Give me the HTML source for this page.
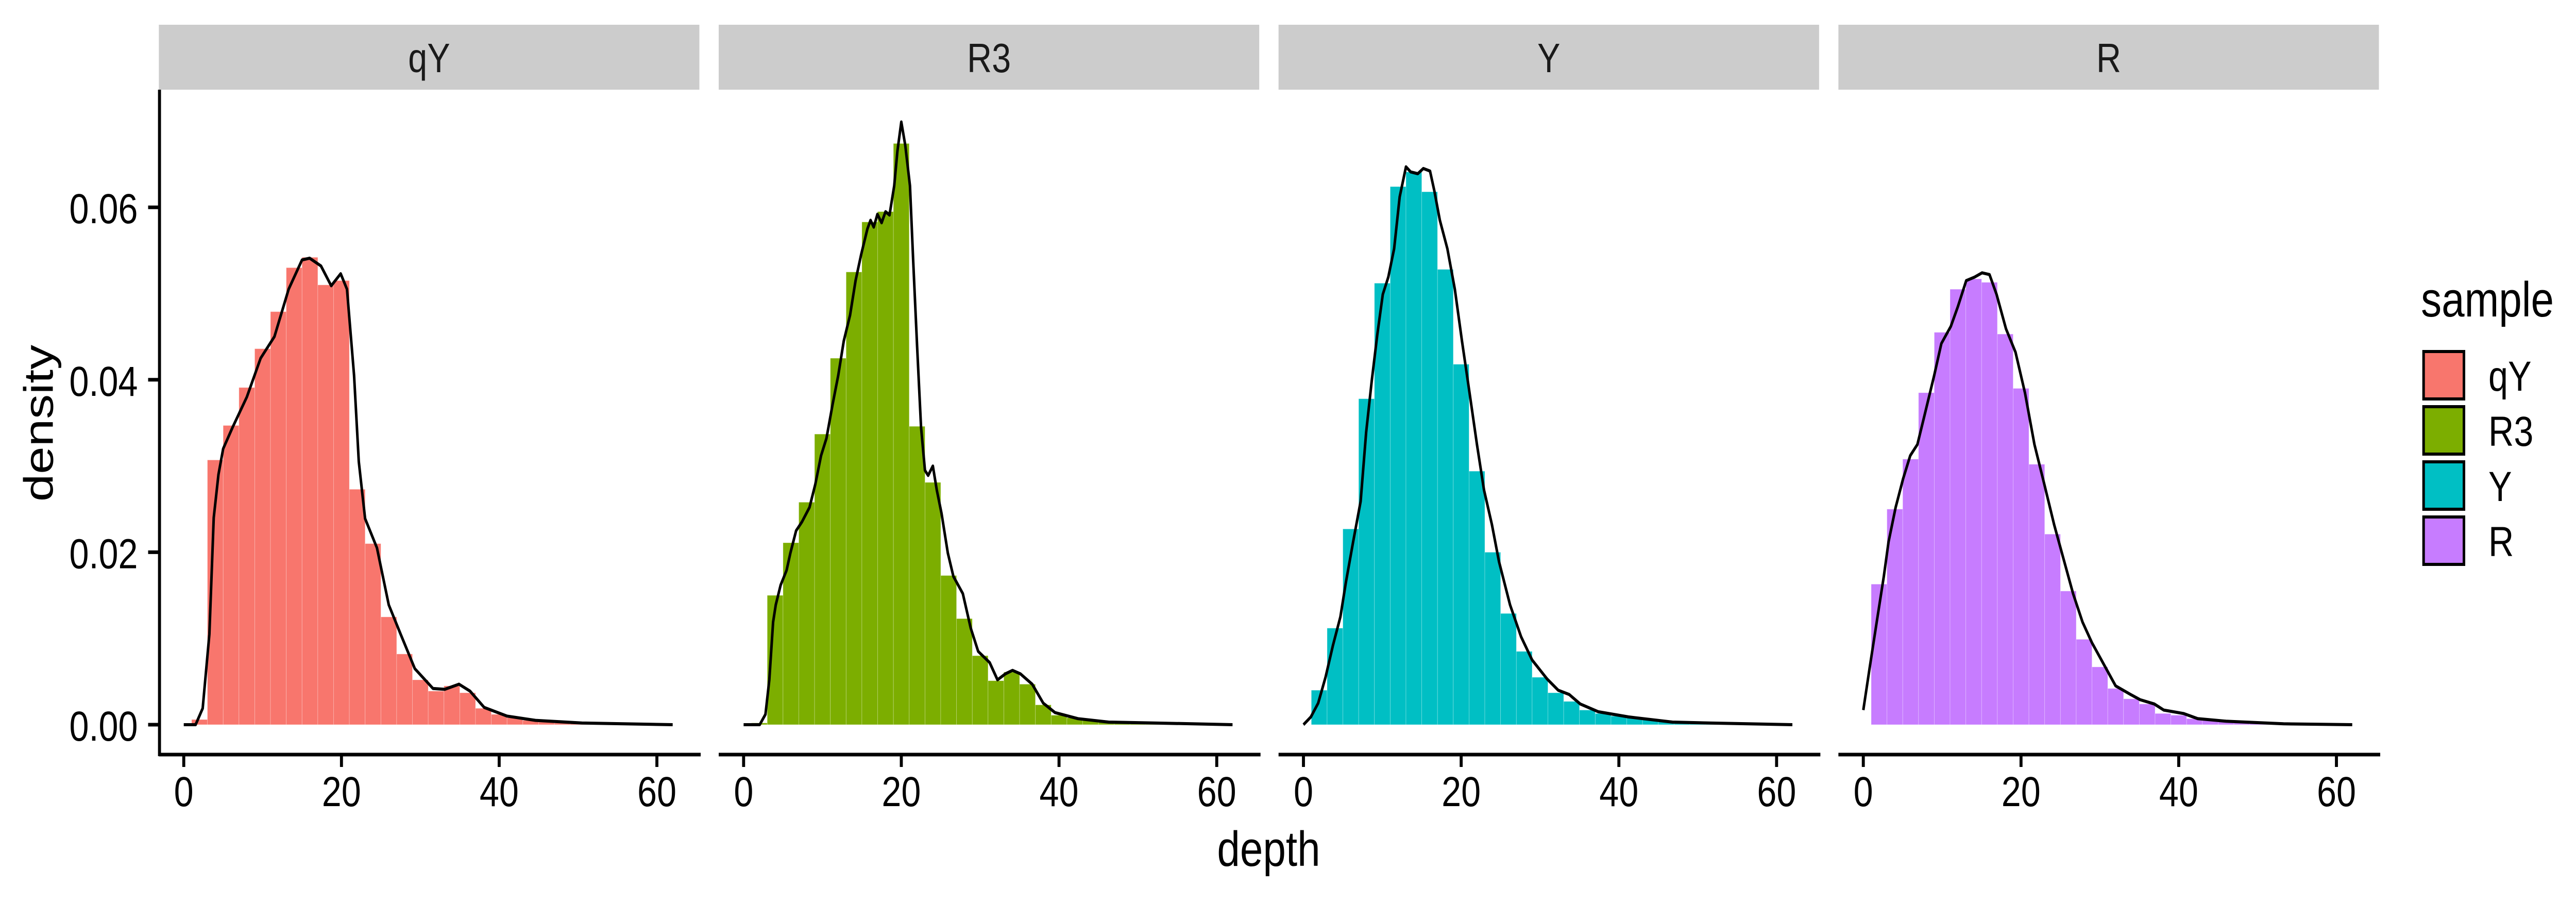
<!DOCTYPE html>
<html><head><meta charset="utf-8"><style>
html,body{margin:0;padding:0;background:#fff;width:100%;height:100%;overflow:hidden;}
svg{display:block;font-family:"Liberation Sans",Arial,sans-serif;width:100vw;height:100vh;}
</style></head><body>
<svg id="chart" viewBox="0 0 6000 1750" preserveAspectRatio="none" xmlns="http://www.w3.org/2000/svg"></svg>
<script>
const samples = ["qY","R3","Y","R"];
const colors = ["#F8766D","#7CAE00","#00BFC4","#C77CFF"];
const binStarts = [1,3,5,7,9,11,13,15,17,19,21,23,25,27,29,31,33,35,37,39,41,43,45,47,49,51,53,55,57,59];
const histQY = [0.0006,0.0307,0.0347,0.0391,0.0436,0.0479,0.0530,0.0542,0.0510,0.0515,0.0273,0.0210,0.0125,0.0082,0.0052,0.0039,0.0045,0.0037,0.0019,0.0012,0.0008,0.0005,0.0003,0.0002,0.0002,0.0001,0.0001,0.0001,0.0001,0.0001];
const histR3 = [0.0002,0.0150,0.0211,0.0258,0.0337,0.0425,0.0525,0.0583,0.0595,0.0674,0.0346,0.0281,0.0173,0.0123,0.0080,0.0051,0.0061,0.0047,0.0023,0.0011,0.0008,0.0005,0.0003,0.0002,0.0002,0.0002,0.0001,0.0001,0.0001,0.0001];
const histY = [0.0040,0.0112,0.0227,0.0378,0.0512,0.0624,0.0641,0.0618,0.0528,0.0418,0.0294,0.0200,0.0129,0.0085,0.0055,0.0037,0.0027,0.0017,0.0013,0.0010,0.0008,0.0006,0.0004,0.0003,0.0002,0.0002,0.0001,0.0001,0.0001,0.0001];
const histR = [0.0163,0.0250,0.0308,0.0385,0.0455,0.0505,0.0517,0.0513,0.0453,0.0390,0.0302,0.0221,0.0155,0.0099,0.0067,0.0042,0.0030,0.0024,0.0013,0.0011,0.0007,0.0005,0.0004,0.0003,0.0002,0.0002,0.0001,0.0001,0.0001,0.0001];
const densXQY = [0,1.5,2.4,3.25,3.8,4.4,5,6.2,8,9.75,11.5,13.3,15,15.96,17.4,18.7,19.9,20.7,21.6,22.2,23,24.5,26,27.5,29.3,31.6,33.1,34.9,36.3,38.1,41,44.6,50.5,62];
const densYQY = [0,0,0.0019,0.0105,0.024,0.029,0.032,0.0345,0.038,0.0425,0.045,0.0505,0.0539,0.0541,0.0532,0.0509,0.0523,0.0505,0.0405,0.0305,0.0239,0.0205,0.0139,0.0105,0.0065,0.0042,0.0041,0.0047,0.0039,0.002,0.001,0.0005,0.0002,0];
const densXR3 = [0,2.04,2.77,3.26,3.74,4.08,4.7,5.45,5.93,6.66,7.39,8.36,9.1,9.82,10.5,11.3,12,12.7,13.5,14.2,14.9,15.7,16.1,16.5,16.97,17.5,18,18.5,19.1,19.5,20,20.5,21.1,21.5,22,22.5,23,23.4,24,24.5,25.1,25.9,26.6,27.8,28.8,29.75,31.2,32.2,33.2,34.1,35.1,36.6,38,39.5,42.4,46.3,52.1,62];
const densYR3 = [0,0,0.0012,0.0052,0.0119,0.0139,0.0162,0.0179,0.0199,0.0225,0.0235,0.0252,0.0279,0.0312,0.0332,0.0372,0.0405,0.0445,0.0475,0.0515,0.0545,0.0575,0.0585,0.0577,0.0592,0.0582,0.0595,0.0591,0.0625,0.0665,0.0699,0.0672,0.0625,0.0539,0.0439,0.0345,0.0295,0.0289,0.03,0.0272,0.0245,0.0199,0.0172,0.0152,0.0112,0.0085,0.0072,0.0052,0.0059,0.0063,0.0059,0.0047,0.0025,0.0014,0.0007,0.0003,0.0002,0];
const densXY = [0,0.94,1.87,2.8,3.74,4.68,5.38,6.3,7.25,7.95,8.66,9.36,10.06,10.76,11.5,12.2,13.0,13.6,14.5,15.2,16.05,16.6,17.3,18.25,19.2,20.1,21.06,22,22.9,23.9,24.8,26.2,27.6,29.0,30.9,32.3,33.7,35.1,37.4,41.2,46.8,51.5,62];
const densYY = [0,0.0009,0.0025,0.0055,0.0092,0.0125,0.0165,0.0212,0.0259,0.0339,0.0399,0.0452,0.0499,0.0519,0.0552,0.0612,0.0647,0.0641,0.0639,0.0645,0.0642,0.0619,0.0585,0.0552,0.0505,0.0445,0.0385,0.0325,0.0272,0.0232,0.0189,0.0139,0.0102,0.0075,0.0053,0.004,0.0035,0.0024,0.0015,0.0009,0.0003,0.0002,0];
const densXR = [0,0.79,1.7,2.6,3.2,4.1,5.04,5.95,6.86,7.77,8.99,9.9,11.1,12.0,13.05,14.1,15.06,16,16.9,18.1,19.3,20.5,21.7,22.95,24.2,25.4,26.6,27.8,29,30.8,32,33.9,35.1,36.9,38.1,40.6,42.4,46,53.3,62];
const densYR = [0.0017,0.0065,0.0119,0.0172,0.0212,0.0252,0.0285,0.0312,0.0325,0.0359,0.0405,0.0442,0.0462,0.0485,0.0515,0.0519,0.0524,0.0522,0.0499,0.0459,0.0432,0.0385,0.0325,0.0279,0.0232,0.0192,0.0152,0.0119,0.0095,0.0065,0.0045,0.0035,0.0029,0.0024,0.0017,0.0013,0.0007,0.0004,0.0001,0];
const xTicks = [0,20,40,60];
const yTicks = [0,0.02,0.04,0.06];
const yTickLabels = ["0.00","0.02","0.04","0.06"];

const hists = [histQY,histR3,histY,histR];
const densX = [densXQY,densXR3,densXY,densXR];
const densY = [densYQY,densYR3,densYY,densYR];
const NS = "http://www.w3.org/2000/svg";
const svg = document.getElementById("chart");
const panelLeft0 = 370, panelStep = 1304, panelW = 1259;
const binW = 2;
function xScale(p, v){ return panelLeft0 + p*panelStep + 58 + v*18.367; }
function yScale(v){ return 1406 - v*16730; }
function mk(tag, attrs, parent){
  const e = document.createElementNS(NS, tag);
  for (const k in attrs) e.setAttribute(k, attrs[k]);
  (parent||svg).appendChild(e);
  return e;
}

for (let p=0;p<samples.length;p++){
  const left = panelLeft0 + p*panelStep;
  const g = mk("g",{});
  
  
  const strip = mk("rect",{x:left,y:48,width:panelW,height:126,fill:"#CCCCCC"},g);
  
  
  const st = mk("text",{x:left+panelW/2,y:140,"font-size":80,"text-anchor":"middle",fill:"#1a1a1a"},g);
  st.textContent = samples[p];
  
  
  const h = hists[p];
  for (let i=0;i<binStarts.length;i++){
    const x0 = xScale(p, binStarts[i]), x1 = xScale(p, binStarts[i]+binW);
    const y = yScale(h[i]);
    const r = mk("rect",{x:x0,y:y,width:x1-x0,height:yScale(0)-y,fill:colors[p],stroke:"rgba(255,255,255,0.35)","stroke-width":1},g);
    
    
  }
  let d = "";
  for (let i=0;i<densX[p].length;i++){
    d += (i?"L":"M") + xScale(p,densX[p][i]).toFixed(1) + "," + yScale(densY[p][i]).toFixed(1);
  }
  const path = mk("path",{d:d,fill:"none",stroke:"#000","stroke-width":6,"stroke-linejoin":"round"},g);
  
  
  const ax = mk("line",{x1:left,x2:left+panelW+3,y1:1464,y2:1464,stroke:"#000","stroke-width":7},g);
  
  
  for (let t=0;t<xTicks.length;t++){
    const tx = xScale(p, xTicks[t]);
    const tk = mk("line",{x1:tx,x2:tx,y1:1464,y2:1488,stroke:"#000","stroke-width":7},g);
    
    
    const tl = mk("text",{x:tx,y:1564,"font-size":82,"text-anchor":"middle",fill:"#000"},g);
    tl.textContent = xTicks[t];
    
    
  }
}
const yax = mk("line",{x1:371.5,x2:371.5,y1:174,y2:1467,stroke:"#000","stroke-width":7});


for (let t=0;t<yTicks.length;t++){
  const ty = yScale(yTicks[t]);
  const tk = mk("line",{x1:345,x2:371,y1:ty,y2:ty,stroke:"#000","stroke-width":7});
  
  
  const tl = mk("text",{x:321,y:ty+31,"font-size":82,"text-anchor":"end",fill:"#000"});
  tl.textContent = yTickLabels[t];
  
  
}
const xt = mk("text",{x:2955,y:1680,"font-size":96,"text-anchor":"middle",fill:"#000"});
xt.textContent = "depth";


const yt = mk("text",{x:0,y:0,"font-size":96,"text-anchor":"middle",fill:"#000",transform:"translate(123,821) rotate(-90)"});
yt.textContent = "density";


const lt = mk("text",{x:5639,y:614,"font-size":96,fill:"#000"});
lt.textContent = "sample";


const keyY = [679,786,893,1000];
for (let i=0;i<samples.length;i++){
  const k = mk("rect",{x:5645,y:keyY[i]+3,width:94,height:92,fill:colors[i],stroke:"#000","stroke-width":6});
  
  
  const kl = mk("text",{x:5796,y:keyY[i]+79,"font-size":82,fill:"#000"});
  kl.textContent = samples[i];
  
  
}
</script>
</body></html>
